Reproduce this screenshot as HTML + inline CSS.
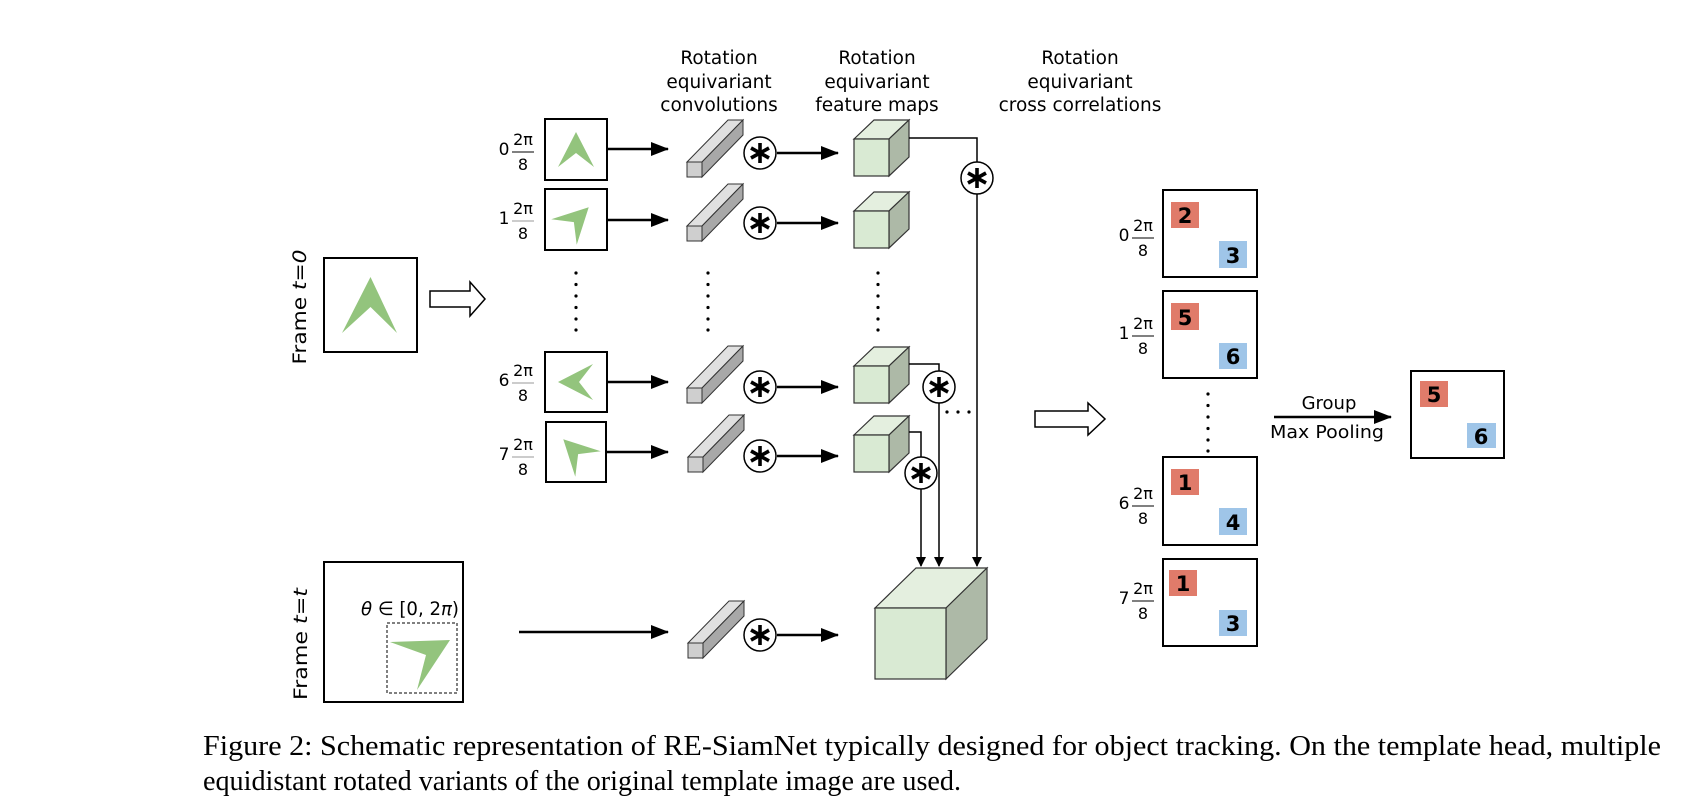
<!DOCTYPE html>
<html><head><meta charset="utf-8"><style>html,body{margin:0;padding:0;background:#fff}svg{display:block}</style></head>
<body>
<svg width="1688" height="807" viewBox="0 0 1688 807" xmlns="http://www.w3.org/2000/svg" font-family="DejaVu Sans, Liberation Sans, sans-serif">
<defs>
<marker id="ah" markerWidth="10" markerHeight="10" refX="9" refY="5" orient="auto" markerUnits="userSpaceOnUse"><path d="M0,0 L10,5 L0,10 z" fill="#000"/></marker>
<marker id="ahb" markerWidth="18" markerHeight="14" refX="17" refY="7" orient="auto" markerUnits="userSpaceOnUse"><path d="M0,0 L18,7 L0,14 z" fill="#000"/></marker>
<g id="star"><circle r="16" fill="#fff" stroke="#000" stroke-width="1.5"/><g stroke="#000" stroke-width="3.6" stroke-linecap="butt"><line x1="0" y1="-10" x2="0" y2="10"/><line x1="-9" y1="-5" x2="9" y2="5"/><line x1="-9" y1="5" x2="9" y2="-5"/></g></g>
<g id="bar" stroke="#333" stroke-width="1"><polygon points="0,0 41,-42 56,-42 15,0" fill="#e0e0e0"/><polygon points="15,0 56,-42 56,-27 15,15" fill="#a8a8a8"/><rect x="0" y="0" width="15" height="15" fill="#cfcfcf"/></g>
<g id="cube" stroke="#333" stroke-width="1.2"><polygon points="0,0 20,-19 55,-19 35,0" fill="#e4efdf"/><polygon points="35,0 55,-19 55,18 35,37" fill="#adb9a7"/><rect x="0" y="0" width="35" height="37" fill="#d9ead3"/></g>
<polygon id="chev" points="0,-18 -18,17 0,3 18,17" fill="#93c47d"/>
<g id="frac"><text x="504" y="155" text-anchor="middle" font-size="17">0</text><text x="523" y="145" text-anchor="middle" font-size="16">2π</text><text x="523" y="170" text-anchor="middle" font-size="16">8</text></g>
</defs>

<!-- headers -->
<g font-size="18.5" text-anchor="middle" fill="#000">
<text x="719" y="64">Rotation</text><text x="719" y="88">equivariant</text><text x="719" y="111">convolutions</text>
<text x="877" y="64">Rotation</text><text x="877" y="88">equivariant</text><text x="877" y="111">feature maps</text>
<text x="1080" y="64">Rotation</text><text x="1080" y="88">equivariant</text><text x="1080" y="111">cross correlations</text>
</g>

<!-- Frame t=0 -->
<text transform="translate(306,307) rotate(-90)" font-size="19" text-anchor="middle" textLength="115" lengthAdjust="spacingAndGlyphs">Frame <tspan font-style="italic">t</tspan>=<tspan font-style="italic">0</tspan></text>
<rect x="324" y="258" width="93" height="94" fill="#fff" stroke="#000" stroke-width="2"/>
<polygon points="370.5,277 342,333 370.5,307 397,333" fill="#93c47d"/>
<polygon points="430,291 470,291 470,282 485,299 470,316 470,307 430,307" fill="#fff" stroke="#000" stroke-width="1.5"/>

<!-- Template rows -->
<g fill="#000">
<g><text x="504" y="155" text-anchor="middle" font-size="17">0</text><text x="523" y="145" text-anchor="middle" font-size="16">2π</text><line x1="512" y1="152" x2="534" y2="152" stroke="#000" stroke-width="1"/><text x="523" y="170" text-anchor="middle" font-size="16">8</text></g>
<g transform="translate(0,69)"><text x="504" y="155" text-anchor="middle" font-size="17">1</text><text x="523" y="145" text-anchor="middle" font-size="16">2π</text><line x1="512" y1="152" x2="534" y2="152" stroke="#999" stroke-width="1"/><text x="523" y="170" text-anchor="middle" font-size="16">8</text></g>
<g transform="translate(0,231)"><text x="504" y="155" text-anchor="middle" font-size="17">6</text><text x="523" y="145" text-anchor="middle" font-size="16">2π</text><line x1="512" y1="152" x2="534" y2="152" stroke="#999" stroke-width="1"/><text x="523" y="170" text-anchor="middle" font-size="16">8</text></g>
<g transform="translate(0,305)"><text x="504" y="155" text-anchor="middle" font-size="17">7</text><text x="523" y="145" text-anchor="middle" font-size="16">2π</text><line x1="512" y1="152" x2="534" y2="152" stroke="#999" stroke-width="1"/><text x="523" y="170" text-anchor="middle" font-size="16">8</text></g>
</g>
<g fill="#fff" stroke="#000" stroke-width="2">
<rect x="545" y="119" width="62" height="61"/><rect x="545" y="189" width="62" height="61"/><rect x="545" y="352" width="62" height="60"/><rect x="546" y="422" width="60" height="60"/>
</g>
<use href="#chev" transform="translate(576,150)"/>
<use href="#chev" transform="translate(576,220) rotate(45)"/>
<use href="#chev" transform="translate(576,382) rotate(270)"/>
<use href="#chev" transform="translate(576,452) rotate(315)"/>

<g stroke="#000" stroke-width="2.5" marker-end="url(#ahb)">
<line x1="607" y1="149" x2="668" y2="149"/><line x1="607" y1="220" x2="668" y2="220"/><line x1="607" y1="382" x2="668" y2="382"/><line x1="606" y1="452" x2="668" y2="452"/><line x1="519" y1="632" x2="668" y2="632"/>
<line x1="777" y1="153" x2="838" y2="153"/><line x1="777" y1="223" x2="838" y2="223"/><line x1="777" y1="387" x2="838" y2="387"/><line x1="777" y1="456" x2="838" y2="456"/><line x1="777" y1="635" x2="838" y2="635"/>
</g>

<use href="#bar" transform="translate(687,162)"/>
<use href="#bar" transform="translate(687,226)"/>
<use href="#bar" transform="translate(687,388)"/>
<use href="#bar" transform="translate(688,457)"/>
<use href="#bar" transform="translate(688,643)"/>

<use href="#star" transform="translate(760,153)"/>
<use href="#star" transform="translate(760,223)"/>
<use href="#star" transform="translate(760,387)"/>
<use href="#star" transform="translate(760,456)"/>
<use href="#star" transform="translate(760,635)"/>

<use href="#cube" transform="translate(854,139)"/>
<use href="#cube" transform="translate(854,211)"/>
<use href="#cube" transform="translate(854,366)"/>
<use href="#cube" transform="translate(854,435)"/>

<!-- dots -->
<g fill="#000">
<g id="dots"><circle cx="576" cy="273" r="1.6"/><circle cx="576" cy="284.5" r="1.6"/><circle cx="576" cy="296" r="1.6"/><circle cx="576" cy="307.5" r="1.6"/><circle cx="576" cy="319" r="1.6"/><circle cx="576" cy="330" r="1.6"/></g>
<use href="#dots" transform="translate(132,0)"/>
<use href="#dots" transform="translate(302,0)"/>
<use href="#dots" transform="translate(632,121)"/>
<circle cx="947" cy="412" r="1.6"/><circle cx="958" cy="412" r="1.6"/><circle cx="969" cy="412" r="1.6"/>
</g>

<!-- cross correlation lines -->
<g stroke="#000" stroke-width="1.5" fill="none">
<polyline points="909,138 977,138 977,162"/>
<line x1="977" y1="194" x2="977" y2="566" marker-end="url(#ah)"/>
<polyline points="909,364 939,364 939,371"/>
<line x1="939" y1="403" x2="939" y2="566" marker-end="url(#ah)"/>
<polyline points="909,432 921,432 921,457"/>
<line x1="921" y1="489" x2="921" y2="566" marker-end="url(#ah)"/>
</g>
<use href="#star" transform="translate(977,178)"/>
<use href="#star" transform="translate(939,387)"/>
<use href="#star" transform="translate(921,473)"/>

<!-- big cube -->
<g stroke="#333" stroke-width="1.2">
<polygon points="875,608 916,568 987,568 946,608" fill="#e4efdf"/>
<polygon points="946,608 987,568 987,639 946,679" fill="#adb9a7"/>
<rect x="875" y="608" width="71" height="71" fill="#d9ead3"/>
</g>

<!-- Frame t=t -->
<text transform="translate(307,644) rotate(-90)" font-size="19" text-anchor="middle" textLength="112" lengthAdjust="spacingAndGlyphs">Frame <tspan font-style="italic">t</tspan>=<tspan font-style="italic">t</tspan></text>
<rect x="324" y="562" width="139" height="140" fill="#fff" stroke="#000" stroke-width="2"/>
<rect x="387" y="623" width="70" height="70" fill="none" stroke="#000" stroke-width="1" stroke-dasharray="3,2"/>
<polygon points="390,642 450,640 417,690 426,655" fill="#93c47d"/>
<text x="361" y="615" font-size="19" textLength="98" lengthAdjust="spacingAndGlyphs"><tspan font-style="italic">θ</tspan> ∈ [0, 2<tspan font-style="italic">π</tspan>)</text>

<!-- right hollow arrow -->
<polygon points="1035,411 1088,411 1088,403 1105,419 1088,435 1088,427 1035,427" fill="#fff" stroke="#000" stroke-width="1.5"/>

<!-- right labels -->
<g fill="#000">
<g transform="translate(620,86)"><text x="504" y="155" text-anchor="middle" font-size="17">0</text><text x="523" y="145" text-anchor="middle" font-size="16">2π</text><line x1="512" y1="152" x2="534" y2="152" stroke="#000"/><text x="523" y="170" text-anchor="middle" font-size="16">8</text></g>
<g transform="translate(620,184)"><text x="504" y="155" text-anchor="middle" font-size="17">1</text><text x="523" y="145" text-anchor="middle" font-size="16">2π</text><line x1="512" y1="152" x2="534" y2="152" stroke="#000"/><text x="523" y="170" text-anchor="middle" font-size="16">8</text></g>
<g transform="translate(620,354)"><text x="504" y="155" text-anchor="middle" font-size="17">6</text><text x="523" y="145" text-anchor="middle" font-size="16">2π</text><line x1="512" y1="152" x2="534" y2="152" stroke="#000"/><text x="523" y="170" text-anchor="middle" font-size="16">8</text></g>
<g transform="translate(620,449)"><text x="504" y="155" text-anchor="middle" font-size="17">7</text><text x="523" y="145" text-anchor="middle" font-size="16">2π</text><line x1="512" y1="152" x2="534" y2="152" stroke="#000"/><text x="523" y="170" text-anchor="middle" font-size="16">8</text></g>
</g>

<g fill="#fff" stroke="#000" stroke-width="2">
<rect x="1163" y="190" width="94" height="87"/><rect x="1163" y="291" width="94" height="87"/><rect x="1163" y="457" width="94" height="88"/><rect x="1163" y="559" width="94" height="87"/><rect x="1411" y="371" width="93" height="87"/>
</g>
<g font-size="21" font-weight="bold" text-anchor="middle" fill="#000">
<rect x="1171" y="202" width="28" height="26" fill="#e07b6a"/><text x="1185" y="223">2</text>
<rect x="1219" y="241" width="28" height="27" fill="#9fc5e8"/><text x="1233" y="263">3</text>
<rect x="1171" y="303" width="28" height="27" fill="#e07b6a"/><text x="1185" y="325">5</text>
<rect x="1219" y="343" width="28" height="26" fill="#9fc5e8"/><text x="1233" y="364">6</text>
<rect x="1171" y="469" width="28" height="26" fill="#e07b6a"/><text x="1185" y="490">1</text>
<rect x="1219" y="508" width="28" height="27" fill="#9fc5e8"/><text x="1233" y="530">4</text>
<rect x="1169" y="570" width="28" height="26" fill="#e07b6a"/><text x="1183" y="591">1</text>
<rect x="1219" y="610" width="28" height="26" fill="#9fc5e8"/><text x="1233" y="631">3</text>
<rect x="1420" y="381" width="28" height="26" fill="#e07b6a"/><text x="1434" y="402">5</text>
<rect x="1467" y="423" width="29" height="25" fill="#9fc5e8"/><text x="1481" y="444">6</text>
</g>

<line x1="1274" y1="417" x2="1391" y2="417" stroke="#000" stroke-width="2.5" marker-end="url(#ahb)"/>
<text x="1329" y="409" font-size="18" text-anchor="middle">Group</text>
<text x="1327" y="438" font-size="18" text-anchor="middle" textLength="114" lengthAdjust="spacingAndGlyphs">Max Pooling</text>

<!-- caption -->
<g font-family="Liberation Serif, Times New Roman, serif" font-size="28" fill="#000">
<text x="203" y="755" textLength="1458" lengthAdjust="spacingAndGlyphs">Figure 2:  Schematic representation of RE-SiamNet typically designed for object tracking.  On the template head, multiple</text>
<text x="203" y="790" textLength="758" lengthAdjust="spacingAndGlyphs">equidistant rotated variants of the original template image are used.</text>
</g>
</svg>
</body></html>
